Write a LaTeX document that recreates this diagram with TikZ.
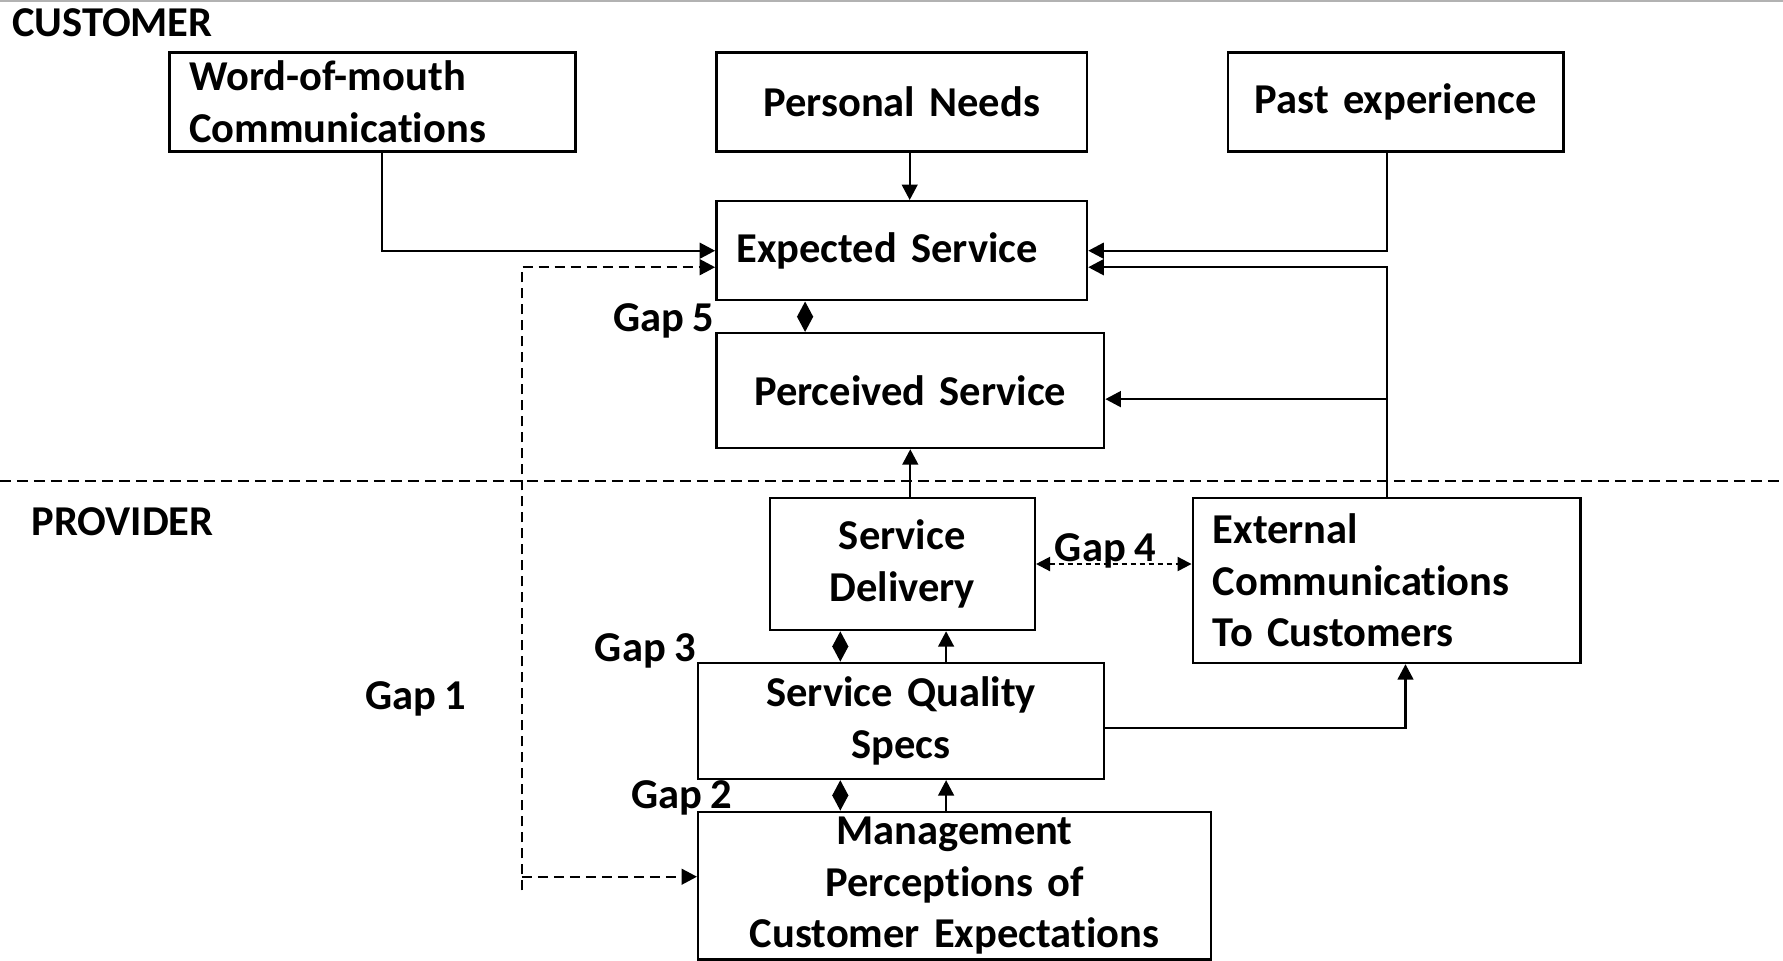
\documentclass[tikz,border=0pt]{standalone}
\usepackage{fontspec}
\setmainfont{Carlito}[Ligatures=NoCommon,WordSpace=0.85]
\usetikzlibrary{arrows.meta,positioning}

\begin{document}
\begin{tikzpicture}[font=\fontsize{12.1}{14.6}\selectfont\bfseries,>={Triangle[length=4.4pt,width=4.5pt]},line cap=butt,line join=miter]
  \tikzset{box/.style={draw,line width=0.7pt,inner xsep=0.2cm,inner ysep=0pt},
           link/.style={line width=0.6pt},
           gapline/.style={line width=0.6pt,dash pattern=on 0.1cm off 0.06cm},
           gaptext/.style={inner sep=0pt}}
  \useasboundingbox (0,0) rectangle (17.83,-9.60);
  \draw[black!30,line width=0.8pt] (0,-0.01) -- (17.83,-0.01);
  % customer side
  \node[anchor=west,inner sep=0pt] (customer) at (0.114,-0.227) {CUSTOMER};
  \node[box,text width=3.66cm,minimum height=0.99cm,align=left] (word) at (3.724,-1.018) {Word-of-mouth\\Communications};
  \node[box,text width=3.307cm,minimum height=0.99cm,align=center] (needs) at (9.017,-1.018) {Personal Needs};
  \node[box,text width=2.954cm,minimum height=0.99cm,align=center] (past) at (13.958,-1.018) {Past experience};
  \node[box,text width=3.307cm,minimum height=0.99cm,align=left] (expected) at (9.017,-2.507) {Expected Service};
  \node[box,text width=3.477cm,minimum height=1.148cm,align=center] (perceived) at (9.103,-3.906) {Perceived Service};
  % divider
  \draw[line width=0.6pt,dash pattern=on 0.11cm off 0.06cm] (0,-4.81) -- (17.83,-4.81);
  % provider side
  \node[anchor=west,inner sep=0pt] (provider) at (0.307,-5.219) {PROVIDER};
  \node[box,text width=2.25cm,minimum height=1.32cm,align=center] (delivery) at (9.023,-5.64) {Service\\Delivery};
  \node[box,text width=3.478cm,minimum height=1.649cm,align=left] (external) at (13.867,-5.805) {External\\Communications\\To Customers};
  \node[box,text width=3.659cm,minimum height=1.16cm,align=center] (specs) at (9.012,-7.209) {Service Quality\\Specs};
  \node[box,text width=4.728cm,minimum height=1.478cm,align=center] (mgmt) at (9.546,-8.858) {Management\\Perceptions of\\Customer Expectations};
  % gap labels
  \node[gaptext] (gapfive) at (6.635,-3.207) {Gap 5};
  \node[gaptext] (gapfour) at (11.053,-5.504) {Gap 4};
  \node[gaptext] (gapthree) at (6.453,-6.504) {Gap 3};
  \node[gaptext] (gapone) at (4.156,-6.993) {Gap 1};
  \node[gaptext] (gaptwo) at (6.817,-7.982) {Gap 2};
  % inputs to expected service
  \draw[link,->] ([xshift=0.097cm]word.south) |- (expected.west);
  \draw[link,->] ([xshift=0.08cm]needs.south) -- ([xshift=0.08cm]expected.north);
  \draw[link,->] ([xshift=-0.085cm]past.south) |- (expected.east);
  \draw[link,->] (external.north) |- ([yshift=-0.165cm]expected.east);
  \coordinate (branch) at ([yshift=-0.085cm]perceived.east -| external.north);
  \draw[link,->] (branch) -- ([yshift=-0.085cm]perceived.east);
  \draw[link,->] (delivery.north -| perceived.south) -- (perceived.south);
  \draw[link,->] ([yshift=-0.07cm]specs.east) -| ([xshift=0.188cm]external.south);
  % gaps
  \path ([xshift=-0.62cm]delivery.south) coordinate (lx) ([xshift=0.438cm]delivery.south) coordinate (rx);
  \draw[link,<->] ([xshift=-0.966cm]expected.south) -- ([xshift=-0.966cm]expected.south |- perceived.north);
  \draw[link,{Triangle[length=4pt,width=4pt]}-{Triangle[length=4pt,width=4pt]},dash pattern=on 0.05cm off 0.04cm] (delivery.east) -- (delivery.east -| external.west);
  \draw[link,<->] (lx) -- (lx |- specs.north);
  \draw[link,->] (rx |- specs.north) -- (rx);
  \draw[link,<->] (specs.south -| lx) -- (mgmt.north -| lx);
  \draw[link,->] (mgmt.north -| rx) -- (specs.south -| rx);
  \coordinate (gonebot) at (5.219,-8.904);
  \coordinate (gonemid) at (5.219,-8.767);
  \draw[gapline,->] (gonebot) |- ([yshift=-0.165cm]expected.west);
  \draw[gapline,->] (gonemid) -- (gonemid -| mgmt.west);
\end{tikzpicture}
\end{document}
